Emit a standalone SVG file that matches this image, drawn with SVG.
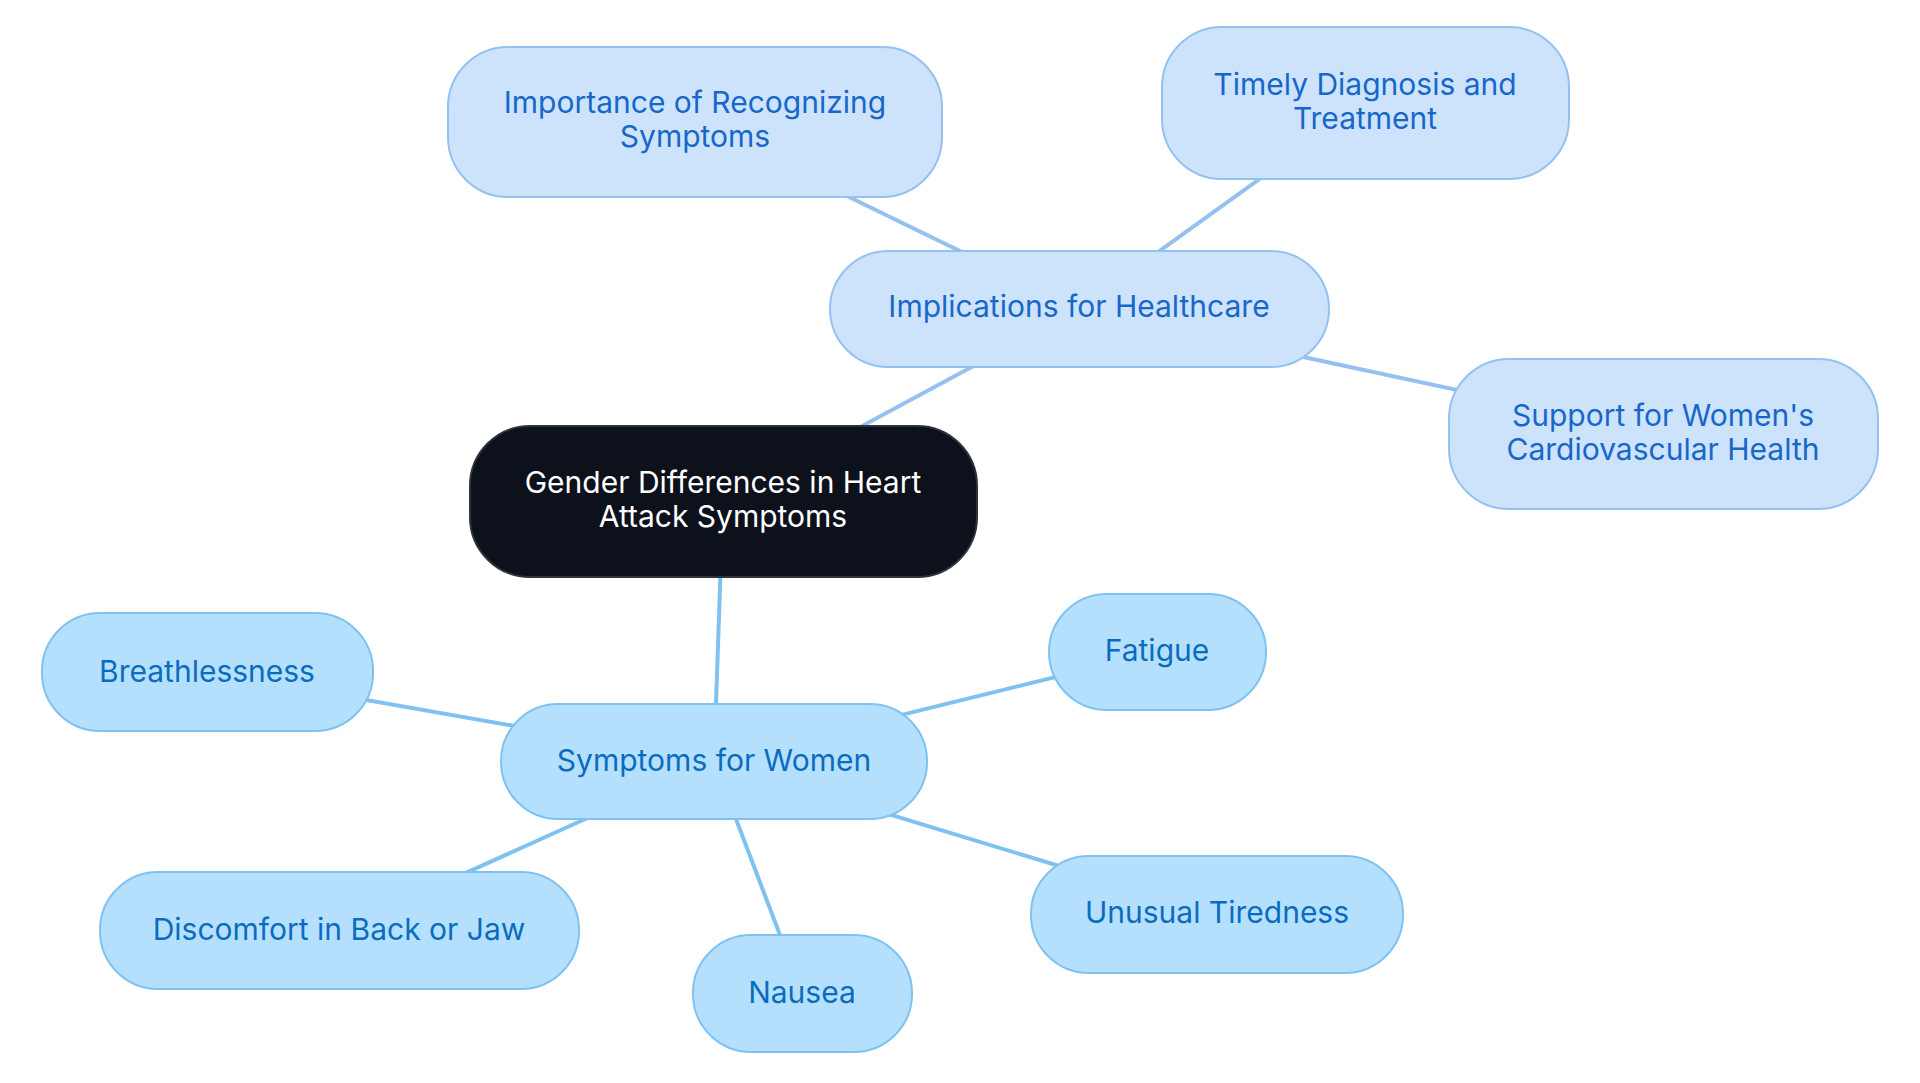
<svg xmlns="http://www.w3.org/2000/svg" width="1920" height="1083" viewBox="0 0 1920 1083">
<style>
text{font-family:Inter,"Noto Sans",sans-serif;font-size:30px;text-anchor:middle}
.root rect{fill:#0c111b;stroke:#2e333b;stroke-width:2}
.root text{fill:#ffffff}
.l1 rect{fill:#cde3fb;stroke:#94c1f0;stroke-width:2}
.l1 text{fill:#1767c9}
.l2 rect{fill:#b5e0fd;stroke:#7fc2f0;stroke-width:2}
.l2 text{fill:#0a6cbf}
.e1{stroke:#94c1f0;stroke-width:4;fill:none}
.e2{stroke:#7fc2f0;stroke-width:4;fill:none}
</style>
<rect width="1920" height="1083" fill="#ffffff"/>
<g id="connectors">
<line class="e1" x1="723" y1="501" x2="1079" y2="309"/>
<line class="e1" x1="1079" y1="309" x2="695" y2="122"/>
<line class="e1" x1="1079" y1="309" x2="1365" y2="103"/>
<line class="e1" x1="1079" y1="309" x2="1663" y2="434"/>
<line class="e2" x1="723" y1="501" x2="714" y2="761"/>
<line class="e2" x1="714" y1="761" x2="207" y2="672"/>
<line class="e2" x1="714" y1="761" x2="1157" y2="652"/>
<line class="e2" x1="714" y1="761" x2="339" y2="930"/>
<line class="e2" x1="714" y1="761" x2="802" y2="993"/>
<line class="e2" x1="714" y1="761" x2="1217" y2="914"/>
</g>
<g id="root" class="root">
<rect x="470" y="426" width="507" height="151" rx="60"/>
<text x="723" y="493">Gender Differences in Heart</text>
<text x="723" y="527">Attack Symptoms</text>
</g>
<g id="implications" class="l1">
<rect x="830" y="251" width="499" height="116" rx="58"/>
<text x="1079" y="317">Implications for Healthcare</text>
</g>
<g id="importance" class="l1">
<rect x="448" y="47" width="494" height="150" rx="60"/>
<text x="695" y="113">Importance of Recognizing</text>
<text x="695" y="147">Symptoms</text>
</g>
<g id="timely" class="l1">
<rect x="1162" y="27" width="407" height="152" rx="60"/>
<text x="1365" y="95">Timely Diagnosis and</text>
<text x="1365" y="129">Treatment</text>
</g>
<g id="support" class="l1">
<rect x="1449" y="359" width="429" height="150" rx="60"/>
<text x="1663" y="426">Support for Women's</text>
<text x="1663" y="460">Cardiovascular Health</text>
</g>
<g id="symptoms" class="l2">
<rect x="501" y="704" width="426" height="115" rx="57"/>
<text x="714" y="771">Symptoms for Women</text>
</g>
<g id="breathlessness" class="l2">
<rect x="42" y="613" width="331" height="118" rx="58"/>
<text x="207" y="682">Breathlessness</text>
</g>
<g id="fatigue" class="l2">
<rect x="1049" y="594" width="217" height="116" rx="58"/>
<text x="1157" y="661">Fatigue</text>
</g>
<g id="discomfort" class="l2">
<rect x="100" y="872" width="479" height="117" rx="58"/>
<text x="339" y="940">Discomfort in Back or Jaw</text>
</g>
<g id="nausea" class="l2">
<rect x="693" y="935" width="219" height="117" rx="58"/>
<text x="802" y="1003">Nausea</text>
</g>
<g id="tiredness" class="l2">
<rect x="1031" y="856" width="372" height="117" rx="58"/>
<text x="1217" y="923">Unusual Tiredness</text>
</g>
</svg>
